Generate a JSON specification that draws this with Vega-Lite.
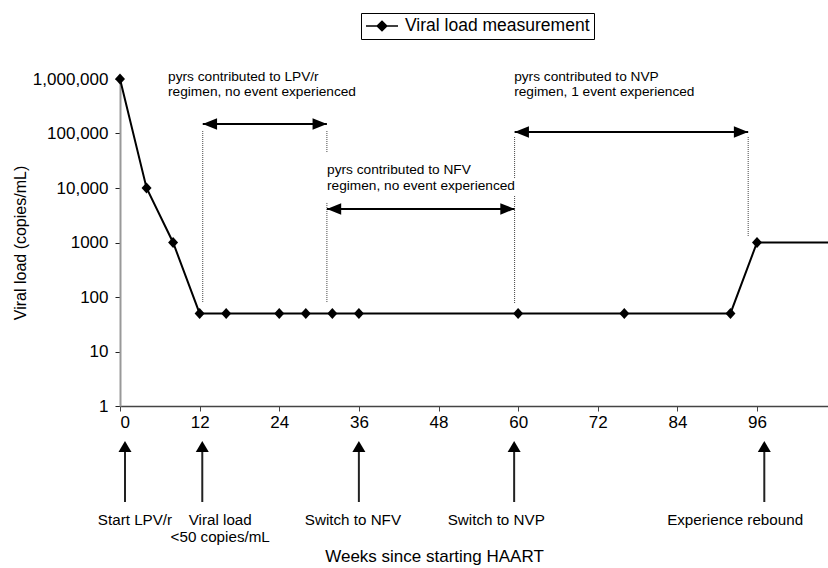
{
  "$schema": "https://vega.github.io/schema/vega-lite/v6.json",
  "width": 708,
  "height": 327,
  "autosize": {"type": "none"},
  "padding": {"left": 120, "top": 79, "right": 0, "bottom": 162},
  "background": "white",
  "config": {"view": {"stroke": null}, "font": "Liberation Sans", "text": {"font": "Liberation Sans"}},
  "datasets": {
    "vl": [
      {"week": 0, "load": 1000000, "measured": true},
      {"week": 4, "load": 10000, "measured": true},
      {"week": 8, "load": 1000, "measured": true},
      {"week": 12, "load": 50, "measured": true},
      {"week": 16, "load": 50, "measured": true},
      {"week": 24, "load": 50, "measured": true},
      {"week": 28, "load": 50, "measured": true},
      {"week": 32, "load": 50, "measured": true},
      {"week": 36, "load": 50, "measured": true},
      {"week": 60, "load": 50, "measured": true},
      {"week": 76, "load": 50, "measured": true},
      {"week": 92, "load": 50, "measured": true},
      {"week": 96, "load": 1000, "measured": true},
      {"week": 106.7, "load": 1000, "measured": false}
    ],
    "dotted": [
      {"week": 12.47, "load": 111000, "load2": 77.6},
      {"week": 31.18, "load": 111000, "load2": 43900},
      {"week": 31.18, "load": 5310, "load2": 77.6},
      {"week": 59.47, "load": 86300, "load2": 15250},
      {"week": 59.47, "load": 7130, "load2": 77.6},
      {"week": 94.67, "load": 86300, "load2": 1316}
    ],
    "brackets": [
      {"week": 12.47, "week2": 31.18, "load": 149300},
      {"week": 31.18, "week2": 59.47, "load": 4120},
      {"week": 59.47, "week2": 94.67, "load": 106600}
    ],
    "heads": [
      {"week": 12.47, "load": 149300, "dir": "left"},
      {"week": 31.18, "load": 4120, "dir": "left"},
      {"week": 59.47, "load": 106600, "dir": "left"},
      {"week": 31.18, "load": 149300, "dir": "right"},
      {"week": 59.47, "load": 4120, "dir": "right"},
      {"week": 94.67, "load": 106600, "dir": "right"},
      {"week": 0.75, "load": 0.228, "dir": "up"},
      {"week": 12.4, "load": 0.228, "dir": "up"},
      {"week": 36, "load": 0.228, "dir": "up"},
      {"week": 59.4, "load": 0.228, "dir": "up"},
      {"week": 97.1, "load": 0.228, "dir": "up"}
    ],
    "shafts": [
      {"week": 0.75, "load": 0.18, "load2": 0.0173},
      {"week": 12.4, "load": 0.18, "load2": 0.0173},
      {"week": 36, "load": 0.18, "load2": 0.0173},
      {"week": 59.4, "load": 0.18, "load2": 0.0173},
      {"week": 97.1, "load": 0.18, "load2": 0.0173}
    ],
    "notes": [
      {"week": 7.24, "load": 1089000, "text": "pyrs contributed to LPV/r"},
      {"week": 7.24, "load": 577000, "text": "regimen, no event experienced"},
      {"week": 31.2, "load": 21400, "text": "pyrs contributed to NFV"},
      {"week": 31.2, "load": 10890, "text": "regimen, no event experienced"},
      {"week": 59.4, "load": 1089000, "text": "pyrs contributed to NVP"},
      {"week": 59.4, "load": 577000, "text": "regimen, 1 event experienced"}
    ],
    "events": [
      {"week": 2.26, "load": 0.0081, "text": "Start LPV/r"},
      {"week": 15.1, "load": 0.0081, "text": "Viral load"},
      {"week": 15.1, "load": 0.00395, "text": "<50 copies/mL"},
      {"week": 35.1, "load": 0.0081, "text": "Switch to NFV"},
      {"week": 56.7, "load": 0.0081, "text": "Switch to NVP"},
      {"week": 92.7, "load": 0.0081, "text": "Experience rebound"}
    ]
  },
  "encoding": {
    "x": {
      "field": "week",
      "type": "quantitative",
      "scale": {"domain": [0, 106.7], "nice": false, "zero": false},
      "axis": {
        "values": [0, 12, 24, 36, 48, 60, 72, 84, 96],
        "grid": false,
        "domainColor": "#444",
        "domainWidth": 1.5,
        "tickColor": "#444",
        "tickSize": 5,
        "labelFontSize": 17,
        "labelColor": "#000",
        "labelPadding": 3,
        "labelFont": "Liberation Sans",
        "title": "Weeks since starting HAART",
        "titleFont": "Liberation Sans",
        "titleFontSize": 17,
        "titleFontWeight": "normal",
        "titleColor": "#000",
        "titleX": 314,
        "titleY": 150,
        "titleBaseline": "middle"
      }
    },
    "y": {
      "field": "load",
      "type": "quantitative",
      "scale": {"type": "log", "domain": [1, 1000000], "nice": false},
      "axis": {
        "values": [1, 10, 100, 1000, 10000, 100000, 1000000],
        "labelExpr": "datum.value >= 10000 ? format(datum.value, ',') : format(datum.value, 'd')",
        "grid": false,
        "domainColor": "#999",
        "domainWidth": 2,
        "tickColor": "#222",
        "tickSize": 5,
        "labelFontSize": 17,
        "labelColor": "#000",
        "labelPadding": 7,
        "labelFont": "Liberation Sans",
        "title": "Viral load (copies/mL)",
        "titleFont": "Liberation Sans",
        "titleFontSize": 16,
        "titleFontWeight": "normal",
        "titleColor": "#000",
        "titlePadding": 4
      }
    }
  },
  "layer": [
    {
      "data": {"name": "dotted"},
      "mark": {"type": "rule", "color": "#444", "strokeWidth": 1, "strokeDash": [1, 1]},
      "encoding": {"y2": {"field": "load2"}}
    },
    {
      "data": {"name": "brackets"},
      "mark": {"type": "rule", "color": "#000", "strokeWidth": 2},
      "encoding": {"x2": {"field": "week2"}}
    },
    {
      "data": {"name": "shafts"},
      "mark": {"type": "rule", "color": "#222", "strokeWidth": 2},
      "encoding": {"y2": {"field": "load2"}}
    },
    {
      "data": {"name": "heads"},
      "mark": {"type": "point", "filled": true, "color": "#000", "size": 169, "opacity": 1, "strokeWidth": 0},
      "encoding": {
        "shape": {
          "field": "dir",
          "type": "nominal",
          "scale": {
            "domain": ["left", "right", "up"],
            "range": ["M0,0L2.2,-0.9L2.2,0.9Z", "M0,0L-2.2,-0.9L-2.2,0.9Z", "M0,0L-1,1.7L1,1.7Z"]
          },
          "legend": null
        }
      }
    },
    {
      "data": {"name": "vl"},
      "mark": {"type": "line", "strokeWidth": 2},
      "encoding": {
        "color": {
          "datum": "Viral load measurement",
          "type": "nominal",
          "scale": {"range": ["#000"]},
          "legend": {
            "title": null,
            "orient": "none",
            "legendX": 241,
            "legendY": -66,
            "strokeColor": "#000",
            "fillColor": "#fff",
            "padding": 4,
            "labelFontSize": 17.5,
            "labelFont": "Liberation Sans",
            "labelColor": "#000",
            "labelLimit": 400,
            "symbolType": "M-2,0H2M0,-0.6L0.6,0L0,0.6L-0.6,0Z",
            "symbolSize": 256,
            "symbolStrokeWidth": 1.5,
            "symbolOffset": 8,
            "labelOffset": 14,
            "encode": {
              "symbols": {
                "update": {
                  "fill": {"value": "#000"},
                  "stroke": {"value": "#000"},
                  "shape": {"value": "M-2,0H2M0,-0.6L0.6,0L0,0.6L-0.6,0Z"},
                  "size": {"value": 256},
                  "strokeWidth": {"value": 1.5},
                  "opacity": {"value": 1}
                }
              }
            }
          }
        }
      }
    },
    {
      "data": {"name": "vl"},
      "transform": [{"filter": "datum.measured"}],
      "mark": {"type": "point", "shape": "M0,-1.1L1,0L0,1.1L-1,0Z", "filled": true, "color": "#000", "size": 100, "opacity": 1}
    },
    {
      "data": {"name": "notes"},
      "mark": {"type": "text", "align": "left", "baseline": "middle", "fontSize": 13.7, "font": "Liberation Sans", "color": "#000"},
      "encoding": {"text": {"field": "text"}}
    },
    {
      "data": {"name": "events"},
      "mark": {"type": "text", "align": "center", "baseline": "middle", "fontSize": 15.2, "font": "Liberation Sans", "color": "#000"},
      "encoding": {"text": {"field": "text"}}
    }
  ]
}
